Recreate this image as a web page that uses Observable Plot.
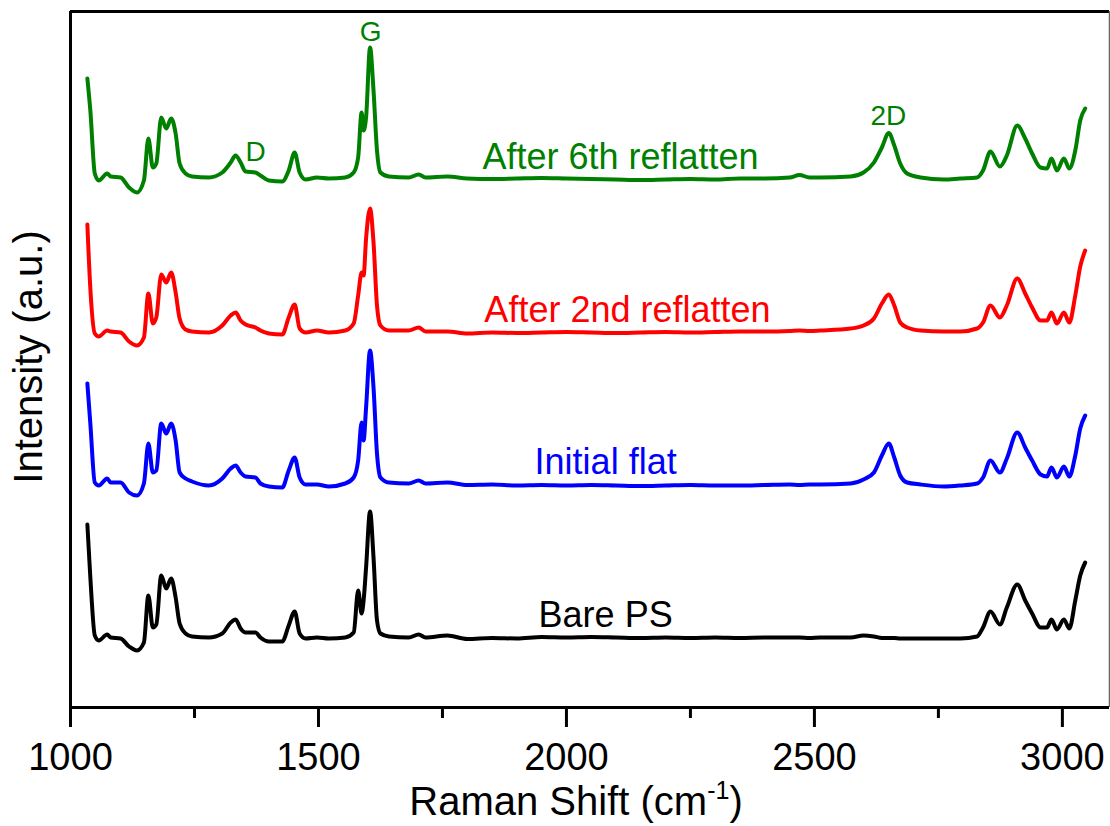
<!DOCTYPE html>
<html><head><meta charset="utf-8">
<script src="https://cdn.jsdelivr.net/npm/d3@7"></script>
<script src="https://cdn.jsdelivr.net/npm/@observablehq/plot@0.6"></script>
<style>body{margin:0;background:#fff;}</style>
</head><body><div id="chart"></div>
<script>
const wavenumber = [1034,1040,1049,1057,1074,1081,1101,1118,1134,1148,
1157,1166,1173,1183,1193,1203,1212,1220,1232,1245,
1279,1306,1323,1333,1343,1353,1373,1383,1400,1427,
1440,1452,1462,1474,1497,1521,1554,1571,1580,1587,
1591,1596,1604,1611,1618,1625,1642,1682,1702,1716,
1760,1800,1850,1900,1950,2000,2050,2100,2150,2200,
2250,2300,2350,2400,2450,2470,2490,2512,
2573,2599,2620,2636,2650,2661,2673,2687,2714,2761,
2794,2828,2840,2855,2874,2888,2909,2925,2939,2956,
2969,2978,2989,3003,3014,3026,3036,3046];

const after6th = [629,597,534,527,534,531,530,520,515,527,
569,540,544,590,579,589,574,544,534,531,
530,535,545,552,545,536,535,532,527,526,
537,555,535,528,530,529,530,535,550,595,
577,590,660,617,557,535,531,530,533,530,
531,529,528.5,529,529.5,529,528.5,528,527.5,528,
528.5,528,529,529,530,532.5,530,530,
531,535,545,560,574.5,562,544,534,530,528,
529,530,537,556,541,552,582,569,554,540,
539,549,537,549,539,557,587,599];

const after2nd = [483,419,374,371,377,376,375,366,362,370,
414,384,390,433,425,435,415,389,378,376,
375,382,392,395,387,383,380,377,374,373,
390,403,379,375,377,375,377,384,412,435,
432,469,499,465,402,382,377,377,380,376,
376,374,375,374.5,375,375.5,375,374.5,375,375.5,
375,375.5,376,376,376.5,377,376.5,377,
379,382,389,404,413,402,385,380,377,376,
376,379,385,402,390,402,429,414,400,387,
387,395,384,395,385,412,441,457];

const initialFlat = [324,284,225,222,229,225,225,215,212,224,
264,235,237,284,274,284,267,235,229,226,
222,229,239,242,235,231,230,224,221,220,
237,250,230,223,223,221,224,230,247,285,
267,300,357,320,254,230,225,224,227,224,
225,222.5,223,222,222.5,222,222.5,222,221.5,222,
222.5,222,222,222.5,223,222.5,223,223,
224,228,235,252,264,250,232,225,223,221,
222,224,230,247,235,249,275,260,247,233,
231,240,230,241,231,252,279,292];

const barePS = [183,130,72,67,73,70,69,61,57,65,
112,80,83,132,119,129,110,84,74,71,
70,74,85,88,79,75,75,70,66,66,
82,96,74,69,70,69,70,75,117,94,
107,140,196,150,87,74,71,70,73,70,
72,68.5,69.5,69,70.5,70,70.5,70,69.5,70,
69.5,70,69.5,70,70,70,69.5,70,
70,72,71,69.5,69.5,69.5,69,69,69,69,
69,71,80,96,83,100,123,107,94,80,
80,88,78,88,79,107,132,145];

const seriesNames = ["Bare PS", "Initial flat", "After 2nd reflatten", "After 6th reflatten"];
const seriesColors = ["#000000", "#0000ff", "#ff0000", "#008000"];
const xTicksMajor = [1000, 1500, 2000, 2500, 3000];
const xTicksMinor = [1250, 1750, 2250, 2750];

// label annotations (data coordinates)
const seriesLabelX = [2079, 2079, 2123, 2109];
const seriesLabelY = [92, 245, 397, 550];
const peakNames = ["D", "G", "2D"];
const peakX = [1373, 1605, 2649];
const peakY = [555, 675, 591];

const rows = [];
[barePS, initialFlat, after2nd, after6th].forEach((arr, i) =>
  arr.forEach((v, j) => rows.push({series: seriesNames[i], x: wavenumber[j], y: v})));
const seriesLabels = seriesNames.map((s, i) => ({series: s, x: seriesLabelX[i], y: seriesLabelY[i]}));
const peakLabels = peakNames.map((p, i) => ({text: p, x: peakX[i], y: peakY[i]}));

const plot = Plot.plot({
  width: 1110, height: 826,
  marginLeft: 70, marginRight: 1, marginTop: 11, marginBottom: 119,
  style: {fontFamily: "'Liberation Sans', Arial, sans-serif", background: "#fff", overflow: "visible", color: "#000"},
  x: {domain: [1000, 3095]},
  y: {domain: [0, 696], axis: null},
  color: {domain: seriesNames, range: seriesColors},
  marks: [
    Plot.line(rows, {x: "x", y: "y", z: "series", stroke: "series", strokeWidth: 4, curve: "monotone-x", strokeLinejoin: "round"}),
    Plot.ruleY([696], {stroke: "#000", strokeWidth: 3}),
    Plot.ruleX([3095], {stroke: "#666", strokeWidth: 1.5}),
    Plot.ruleX([1000], {stroke: "#000", strokeWidth: 3}),
    Plot.ruleY([0], {stroke: "#000", strokeWidth: 3}),
    Plot.axisX(xTicksMinor, {tickSize: 11, strokeWidth: 3, tickFormat: () => "", label: null}),
    Plot.axisX(xTicksMajor, {tickSize: 20, strokeWidth: 3, tickPadding: 16, fontSize: 38, label: null, tickFormat: d => String(d)}),
    Plot.text(seriesLabels, {x: "x", y: "y", text: "series", fill: "series", fontSize: 36}),
    Plot.text(peakLabels, {x: "x", y: "y", text: "text", fill: "#008000", fontSize: 28})
  ]
});

const svg = d3.select(plot);
const xt = svg.append("text")
  .attr("x", 576).attr("y", 815)
  .attr("text-anchor", "middle")
  .attr("font-size", 40).attr("fill", "#000");
xt.append("tspan").text("Raman Shift (cm");
xt.append("tspan").attr("dy", -16).attr("font-size", 25).text("-1");
xt.append("tspan").attr("dy", 16).attr("font-size", 40).text(")");

svg.append("text")
  .attr("transform", "translate(42,357) rotate(-90)")
  .attr("text-anchor", "middle")
  .attr("font-size", 40).attr("fill", "#000")
  .text("Intensity (a.u.)");

document.getElementById("chart").appendChild(plot);
</script>
</body></html>
